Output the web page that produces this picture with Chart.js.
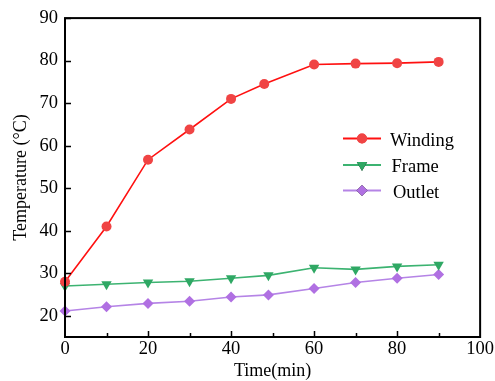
<!DOCTYPE html>
<html>
<head>
<meta charset="utf-8">
<script src="https://cdn.jsdelivr.net/npm/chart.js@4/dist/chart.umd.min.js"></script>
<style>
html,body{margin:0;padding:0;background:#fff;}
#wrap{width:495px;height:381px;position:relative;}
</style>
</head>
<body>
<div id="wrap"><canvas id="c" width="495" height="381"></canvas></div>
<script>
// ---- data ----
const seriesNames = ['Winding', 'Frame', 'Outlet'];
const timesWinding = [0, 10, 20, 30, 40, 48, 60, 70, 80, 90];
const timesOther   = [0, 10, 20, 30, 40, 49, 60, 70, 80, 90];
const winding = [28.0, 41.0, 56.7, 63.8, 71.0, 74.5, 79.1, 79.3, 79.4, 79.7];
const frame   = [27.0, 27.4, 27.8, 28.1, 28.8, 29.5, 31.3, 30.9, 31.6, 32.0];
const outlet  = [21.1, 22.1, 22.9, 23.4, 24.4, 24.9, 26.4, 27.8, 28.8, 29.7];
const xTickValues = [0, 10, 20, 30, 40, 50, 60, 70, 80, 90, 100];
const yTickValues = [20, 30, 40, 50, 60, 70, 80, 90];

const FONT = "'Liberation Serif', 'Times New Roman', serif";

function pts(xs, ys) { return xs.map((x, i) => ({ x: x, y: ys[i] })); }

const boxPlugin = {
  id: 'boxPlugin',
  afterDatasetsDraw(chart) {
    const { ctx, chartArea: a, scales } = chart;
    ctx.save();
    ctx.strokeStyle = '#000';
    // inward ticks
    ctx.lineWidth = 1.5;
    ctx.beginPath();
    xTickValues.forEach(v => {
      if (v === 0 || v === 100) return;
      const px = Math.round(scales.x.getPixelForValue(v)) + 0.5;
      const len = (v % 20 === 0) ? 6 : 4;
      ctx.moveTo(px, a.bottom);
      ctx.lineTo(px, a.bottom - len);
    });
    yTickValues.forEach(v => {
      const py = Math.round(scales.y.getPixelForValue(v)) + 0.5;
      ctx.moveTo(a.left, py);
      ctx.lineTo(a.left + 6, py);
    });
    ctx.stroke();
    // frame
    ctx.lineWidth = 2;
    ctx.strokeRect(a.left, a.top, a.right - a.left, a.bottom - a.top);
    // legend
    const rows = [138.5, 165, 190.5];
    chart.data.datasets.forEach((ds, i) => {
      const y = rows[i];
      ctx.strokeStyle = ds.borderColor;
      ctx.lineWidth = 2;
      ctx.beginPath();
      ctx.moveTo(343, y);
      ctx.lineTo(381, y);
      ctx.stroke();
      Chart.helpers.drawPoint(ctx, {
        pointStyle: ds.pointStyle, rotation: ds.pointRotation || 0,
        radius: ds.pointRadius, borderWidth: 0
      }, 362, y);
      ctx.fillStyle = ds.pointBackgroundColor;
      ctx.fill();
      ctx.fillStyle = '#000';
      ctx.font = '18.5px ' + FONT;
      ctx.textBaseline = 'middle';
      ctx.textAlign = 'left';
      ctx.fillText(ds.label, 390 + i * 1.5, y + 2.5);
    });
    ctx.restore();
  }
};

new Chart(document.getElementById('c'), {
  type: 'line',
  data: {
    datasets: [
      { label: seriesNames[0], data: pts(timesWinding, winding),
        borderColor: '#ff1010', backgroundColor: '#f04444',
        pointBackgroundColor: '#f04444', pointBorderWidth: 0,
        pointStyle: 'circle', pointRadius: 5, borderWidth: 1.6, clip: false },
      { label: seriesNames[1], data: pts(timesOther, frame),
        borderColor: '#3cb371', backgroundColor: '#2fa864',
        pointBackgroundColor: '#2fa864', pointBorderWidth: 0,
        pointStyle: 'triangle', pointRotation: 180, pointRadius: 6, borderWidth: 1.6, clip: false },
      { label: seriesNames[2], data: pts(timesOther, outlet),
        borderColor: '#b584e6', backgroundColor: '#b070e2',
        pointBackgroundColor: '#b070e2', pointBorderWidth: 0,
        pointStyle: 'rectRot', pointRadius: 5.5, borderWidth: 1.6, clip: false }
    ]
  },
  options: {
    responsive: false,
    animation: false,
    devicePixelRatio: 1,
    layout: { padding: { top: 17, right: 13, left: 0, bottom: 0 } },
    plugins: { legend: { display: false }, tooltip: { enabled: false } },
    scales: {
      x: {
        type: 'linear', min: 0, max: 100,
        afterFit(s) { s.height = 44; },
        afterBuildTicks(s) { s.ticks = xTickValues.map(v => ({ value: v })); },
        grid: { display: false, drawTicks: false },
        border: { display: false },
        ticks: { color: '#000', padding: 1, font: { family: FONT, size: 18.5 },
          callback: v => (v % 20 === 0 ? String(v) : '') , maxRotation: 0, autoSkip: false },
        title: { display: true, text: 'Time(min)', color: '#000',
          font: { family: FONT, size: 18 }, padding: { top: 0, bottom: -1 } }
      },
      y: {
        min: 15, max: 90,
        afterFit(s) { s.width = 65; },
        afterBuildTicks(s) { s.ticks = yTickValues.map(v => ({ value: v })); },
        grid: { display: false, drawTicks: false },
        border: { display: false },
        ticks: { color: '#000', padding: 7, font: { family: FONT, size: 18.5 } },
        title: { display: true, text: 'Temperature (°C)', color: '#000',
          font: { family: FONT, size: 18 }, padding: { top: 10, bottom: 0 } }
      }
    }
  },
  plugins: [boxPlugin]
});
</script>
</body>
</html>
